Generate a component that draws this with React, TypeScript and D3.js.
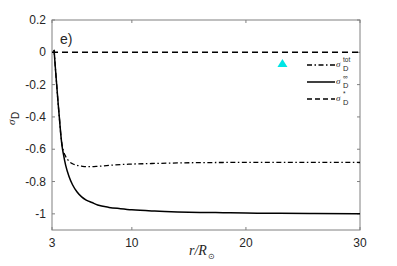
import React from "react";
import { scaleLinear, line, curveMonotoneX } from "d3";

// radius r/R_sun
const rVals = [3.18, 3.3, 3.41, 3.52, 3.64, 3.76, 3.88, 4.0, 4.2, 4.5, 4.8, 5.2, 5.6, 6, 6.5, 7, 8, 9, 10, 12, 14, 16, 18, 20, 23, 26, 30];
// sigma_D infinity (solid)
const sigInf = [0.015, -0.1, -0.2, -0.3, -0.4, -0.5, -0.58, -0.63, -0.7, -0.77, -0.82, -0.865, -0.895, -0.915, -0.93, -0.945, -0.96, -0.968, -0.975, -0.983, -0.988, -0.991, -0.993, -0.995, -0.997, -0.998, -1.0];
// sigma_D tot (dash-dot)
const sigTot = [0.015, -0.1, -0.2, -0.3, -0.4, -0.5, -0.57, -0.61, -0.645, -0.675, -0.69, -0.7, -0.705, -0.708, -0.708, -0.706, -0.7, -0.695, -0.692, -0.688, -0.685, -0.683, -0.682, -0.681, -0.681, -0.681, -0.682];
// sigma_D star (dashed)
const rStar = [3, 30];
const sigStar = [0, 0];
// observation marker
const markR = [23.2];
const markSig = [-0.066];

const xTicks = [3, 10, 20, 30];
const yTicks = [0.2, 0, -0.2, -0.4, -0.6, -0.8, -1];

const W = 397, H = 266;
const left = 52, right = 360, top = 20, bottom = 230;

export default function App() {
  const x = scaleLinear().domain([3, 30]).range([left, right]);
  const y = scaleLinear().domain([-1.1, 0.2]).range([bottom, top]);

  const mk = (xs: number[], ys: number[]) =>
    line<number>()
      .x((_, i) => x(xs[i]))
      .y((d) => y(d))
      .curve(curveMonotoneX)(ys) || "";

  const axisCol = "#808080";
  const txt = "#262626";
  const font = "'Liberation Sans', Arial, sans-serif";
  const serif = "'Liberation Serif', 'Times New Roman', serif";

  const legend = [
    { dash: "5,2.5,1.5,2.5", sup: "tot", w: 1.3 },
    { dash: "none", sup: "∞", w: 1.5 },
    { dash: "5,3", sup: "*", w: 1.3 },
  ];

  return (
    <svg width={W} height={H} style={{ position: "absolute", left: 0, top: 0 }}>
      <rect width={W} height={H} fill="#fff" />
      {/* box */}
      <rect x={left} y={top} width={right - left} height={bottom - top} fill="none" stroke={axisCol} strokeWidth={1} />
      {xTicks.map((t) => (
        <g key={"x" + t}>
          <line x1={x(t)} x2={x(t)} y1={bottom} y2={bottom - 3} stroke={axisCol} />
          <line x1={x(t)} x2={x(t)} y1={top} y2={top + 3} stroke={axisCol} />
          <text x={x(t)} y={247} textAnchor="middle" fontFamily={font} fontSize={12} fill={txt}>{t}</text>
        </g>
      ))}
      {yTicks.map((t) => (
        <g key={"y" + t}>
          <line x1={left} x2={left + 3} y1={y(t)} y2={y(t)} stroke={axisCol} />
          <line x1={right} x2={right - 3} y1={y(t)} y2={y(t)} stroke={axisCol} />
          <text x={46} y={y(t) + 4} textAnchor="end" fontFamily={font} fontSize={12} fill={txt}>{t === 0 ? "0" : String(t)}</text>
        </g>
      ))}

      {/* curves */}
      <path d={mk(rStar, sigStar)} fill="none" stroke="#000" strokeWidth={1.4} strokeDasharray="6,4" />
      <path d={mk(rVals, sigInf)} fill="none" stroke="#000" strokeWidth={1.5} />
      <path d={mk(rVals, sigTot)} fill="none" stroke="#000" strokeWidth={1.3} strokeDasharray="5,2.5,1.5,2.5" />

      {markR.map((r, i) => {
        const cx = x(r), cy = y(markSig[i]);
        return <path key={i} d={`M${cx - 5},${cy + 4} L${cx + 5},${cy + 4} L${cx},${cy - 4} Z`} fill="#00e5e5" />;
      })}

      {/* panel label */}
      <text x={60} y={44} fontFamily={font} fontSize={14} fill={txt}>e)</text>

      {/* legend */}
      {legend.map((l, i) => {
        const ly = 65 + i * 17;
        return (
          <g key={i}>
            <line x1={307} x2={335} y1={ly} y2={ly} stroke="#000" strokeWidth={l.w} strokeDasharray={l.dash} />
            <text x={336} y={ly + 2} fontFamily={serif} fontStyle="italic" fontSize={9} fill={txt}>σ</text>
            <text x={343} y={ly - 3} fontFamily={font} fontSize={6.5} fill={txt}>{l.sup}</text>
            <text x={343} y={ly + 6} fontFamily={font} fontSize={7.5} fill={txt}>D</text>
          </g>
        );
      })}

      {/* y label */}
      <g transform="translate(15,125) rotate(-90)">
        <text x={0} y={0} fontFamily={serif} fontStyle="italic" fontSize={11} fill={txt}>σ</text>
        <text x={6} y={4} fontFamily={font} fontSize={10} fill={txt}>D</text>
      </g>

      {/* x label */}
      <text x={189} y={255} fontFamily={serif} fontStyle="italic" fontSize={14} fill={txt}>
        r/R<tspan fontStyle="normal" fontSize={8} dx={1} dy={4}>⊙</tspan>
      </text>
    </svg>
  );
}
